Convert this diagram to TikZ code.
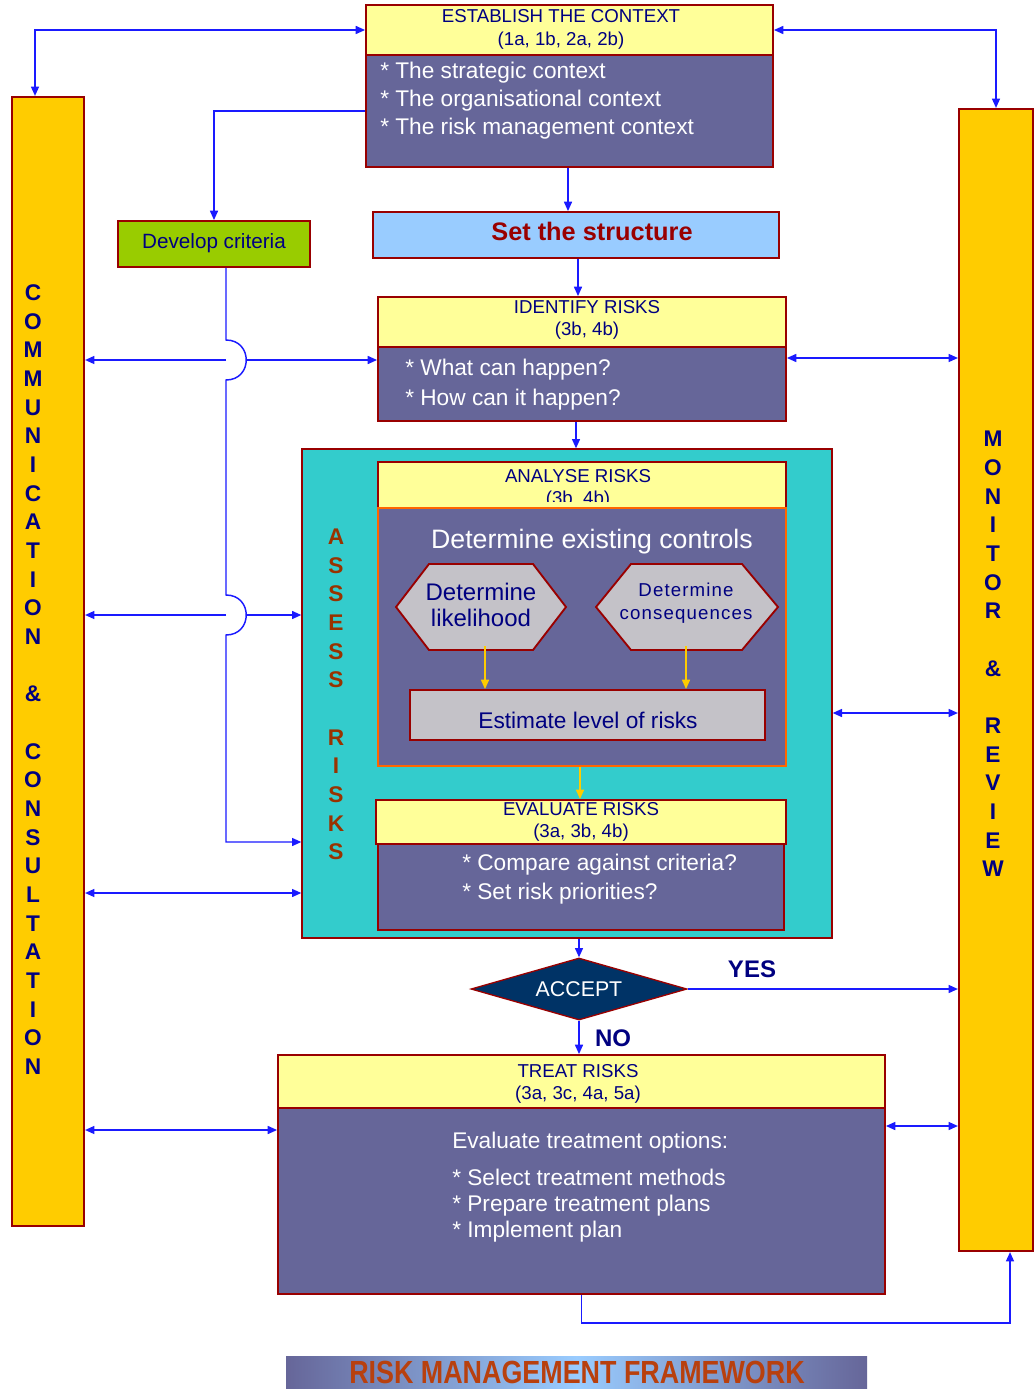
\documentclass[tikz,border=0pt]{standalone}
\usepackage{fontspec}
\setmainfont{Liberation Sans}
\usepackage{graphicx}
\usetikzlibrary{arrows.meta,fit,shapes.geometric}
\definecolor{hdrc}{HTML}{FFFF99}
\definecolor{bodc}{HTML}{666699}
\definecolor{brdc}{HTML}{990000}
\definecolor{tealc}{HTML}{33CCCC}
\definecolor{barc}{HTML}{FFCC00}
\definecolor{grnc}{HTML}{99CC00}
\definecolor{ltbc}{HTML}{99CCFF}
\definecolor{gryc}{HTML}{C4C2C8}
\definecolor{navyc}{HTML}{000080}
\definecolor{lnkc}{HTML}{1A1AFF}
\definecolor{diac}{HTML}{003366}
\definecolor{orngc}{HTML}{FF6600}
\definecolor{brnc}{HTML}{993300}
\definecolor{ttlc}{HTML}{B8400E}
\begin{document}
\begin{tikzpicture}[x=0.75pt,y=-0.75pt,
  >={Triangle[length=7pt,width=6pt]},
  box/.style={draw=brdc, line width=1.4pt, inner sep=0pt},
  hdrbox/.style={box, fill=hdrc},
  hdrtxt/.style={text=navyc, font=\fontsize{14}{17}\selectfont, align=center, inner sep=0pt},
  bodbox/.style={box, fill=bodc},
  bodtxt/.style={text=white, font=\fontsize{17}{21}\selectfont, align=left, anchor=west, inner sep=0pt},
  lnk/.style={draw=lnkc, line width=1.1pt},
  ylw/.style={draw=barc, line width=1.1pt},
  vtxt/.style={font=\bfseries\fontsize{17}{21.5}\selectfont, align=center, inner sep=0pt},
  hexb/.style={draw=brdc, line width=1.4pt, fill=gryc},
  lbl/.style={text=navyc, font=\bfseries\fontsize{18}{20}\selectfont, inner sep=0pt}
]
\fill[white] (0,0) rectangle (1035,1391);
\useasboundingbox (0,0) rectangle (1035,1391);

% side bars
\node[box, fill=barc, line width=1.6pt, fit={(12,97) (84,1226)}] (comm) {};
\node[vtxt, text=navyc] (commT) at (33,679.5) {C\\O\\M\\M\\U\\N\\I\\C\\A\\T\\I\\O\\N\\~\\\&\\~\\C\\O\\N\\S\\U\\L\\T\\A\\T\\I\\O\\N};
\node[box, fill=barc, line width=1.6pt, fit={(959,109) (1033,1251)}] (mon) {};
\node[vtxt, text=navyc] (monT) at (993,654) {M\\O\\N\\I\\T\\O\\R\\~\\\&\\~\\R\\E\\V\\I\\E\\W};

% establish the context
\node[hdrbox, fit={(366,5) (773,55)}] (estH) {};
\node[hdrtxt] (estHT) at (561,29.5) {ESTABLISH THE CONTEXT\\(1a, 1b, 2a, 2b)};
\node[bodbox, fit={(366,55) (773,167)}] (estB) {};
\node[bodtxt] (estT) at (380,101) {* The strategic context\\{*} The organisational context\\{*} The risk management context};

% develop criteria / set the structure
\node[box, fill=grnc, fit={(118,221) (310,267)}] (dev) {};
\node[text=navyc, font=\fontsize{15.5}{18}\selectfont, inner sep=0pt] (devT) at (214,243) {Develop criteria};
\node[box, fill=ltbc, fit={(373,212) (779,258)}] (sts) {};
\node[text=brdc, font=\bfseries\fontsize{19}{22}\selectfont, inner sep=0pt] (stsT) at (592,231) {Set the structure};

% identify risks
\node[hdrbox, fit={(378,297) (786,347)}] (idH) {};
\node[hdrtxt] (idHT) at (587,320) {IDENTIFY RISKS\\(3b, 4b)};
\node[bodbox, fit={(378,347) (786,421)}] (idB) {};
\node[bodtxt, font=\fontsize{17}{22.5}\selectfont] (idT) at (405,385) {* What can happen?\\{*} How can it happen?};

% assess risks frame
\node[box, line width=1pt, fill=tealc, fit={(302,449) (832,938)}] (ass) {};
\node[vtxt, text=brnc] (assT) at (336,694.5) {A\\S\\S\\E\\S\\S\\~\\R\\I\\S\\K\\S};

% analyse risks
\node[hdrbox, fit={(378,462) (786,508)}] (anH) {};
\begin{scope}
\clip (378,462) rectangle (786,501);
\node[hdrtxt] (anT) at (578,489) {ANALYSE RISKS\\(3b, 4b)};
\end{scope}
\node[box, draw=orngc, fill=bodc, fit={(378,508) (786,766)}] (anB) {};
\node[text=white, font=\fontsize{20}{24}\selectfont, inner sep=0pt] (dec) at (592,542) {Determine existing controls};
\draw[hexb] (396,607) -- (429,564) -- (533,564) -- (566,607) -- (533,650) -- (429,650) -- cycle;
\node[text=navyc, font=\fontsize{18}{20}\selectfont, align=center, inner sep=0pt] (lik) at (481,605) {Determine\\likelihood};
\draw[hexb] (596,607) -- (631,564) -- (742,564) -- (778,607) -- (742,650) -- (631,650) -- cycle;
\node[text=navyc, font=\fontsize{14}{17}\selectfont\addfontfeatures{LetterSpace=6}, align=center, inner sep=0pt] (con) at (686,603) {Determine\\consequences};
\node[box, fill=gryc, fit={(410,690) (765,740)}] (est) {};
\node[text=navyc, font=\fontsize{17}{20}\selectfont, inner sep=0pt] (estT2) at (588,720) {Estimate level of risks};

% evaluate risks
\node[hdrbox, fit={(376,800) (786,844)}] (evH) {};
\node[hdrtxt] (evHT) at (581,822) {EVALUATE RISKS\\(3a, 3b, 4b)};
\node[bodbox, fit={(378,844) (784,930)}] (evB) {};
\node[bodtxt, font=\fontsize{17}{21.75}\selectfont] (evT) at (462,879.5) {* Compare against criteria?\\{*} Set risk priorities?};

% accept
\node[diamond, draw=brdc, line width=1pt, fill=diac, minimum width=162pt, minimum height=46.5pt, inner sep=0pt, aspect=3.5, text=white, font=\fontsize{16}{19}\selectfont] (acc) at (579,989) {ACCEPT};
\node[lbl] (yes) at (752,969) {YES};
\node[lbl] (no) at (613,1038) {NO};

% treat risks
\node[hdrbox, fit={(278,1055) (885,1108)}] (trH) {};
\node[hdrtxt] (trHT) at (578,1084) {TREAT RISKS\\(3a, 3c, 4a, 5a)};
\node[bodbox, fit={(278,1108) (885,1294)}] (trB) {};
\node[bodtxt] (trT1) at (452,1143) {Evaluate treatment options:};
\node[bodtxt, font=\fontsize{17}{19.5}\selectfont] (trT2) at (452,1206) {* Select treatment methods\\{*} Prepare treatment plans\\{*} Implement plan};

% title
\node[inner sep=0pt, fit={(286,1356) (867,1388)}, left color=bodc, right color=bodc, middle color=ltbc] (ttl) {};
\node[text=ttlc, font=\bfseries\fontsize{24}{26}\selectfont, inner sep=0pt] (ttlT) at (577,1372) {\scalebox{0.84}[1]{RISK MANAGEMENT FRAMEWORK}};

% connectors
\draw[lnk,<->] (35,0 |- comm.north) |- (estH.west);
\draw[lnk,<->] (estH.east) -| (mon.north);
\draw[lnk,->] (estB.west) -| (dev.north);
\draw[lnk,->] (568,0 |- estB.south) -- (568,0 |- sts.north);
\draw[lnk,->] (578,0 |- sts.south) -- (578,0 |- idH.north);
\draw[lnk,->] (576,0 |- idB.south) -- (576,0 |- ass.north);
% left side links with hops
\draw[lnk,->] (226,360) -- (comm.east |- 0,360);
\draw[lnk,->] (247,360) -- (idB.west |- 0,360);
\draw[lnk,->] (226,615) -- (comm.east |- 0,615);
\draw[lnk,->] (247,615) -- (ass.west |- 0,615);
\draw[lnk,->] (226,0 |- dev.south) -- (226,340) .. controls (253,340) and (253,380) .. (226,380)
   -- (226,595) .. controls (253,595) and (253,635) .. (226,635) |- (ass.west |- 0,842);
\draw[lnk,<->] (comm.east |- 0,893) -- (ass.west |- 0,893);
\draw[lnk,<->] (comm.east |- 0,1130) -- (trB.west |- 0,1130);
% right side links
\draw[lnk,<->] (mon.west |- 0,358) -- (idB.east |- 0,358);
\draw[lnk,<->] (mon.west |- 0,713) -- (ass.east |- 0,713);
\draw[lnk,->] (acc.east) -- (mon.west |- acc.east);
\draw[lnk,<->] (mon.west |- 0,1126) -- (trB.east |- 0,1126);
\draw[lnk,->] (trB.south) |- (1010,1323) -- (1010,0 |- mon.south);
% decision
\draw[lnk,->] (acc.north |- ass.south) -- (acc.north);
\draw[lnk,->] (acc.south) -- (acc.south |- trH.north);
% yellow arrows
\draw[ylw,->] (485,646) -- (485,0 |- est.north);
\draw[ylw,->] (686,646) -- (686,0 |- est.north);
\draw[ylw,->] (580,0 |- anB.south) -- (580,0 |- evH.north);
\end{tikzpicture}
\end{document}
